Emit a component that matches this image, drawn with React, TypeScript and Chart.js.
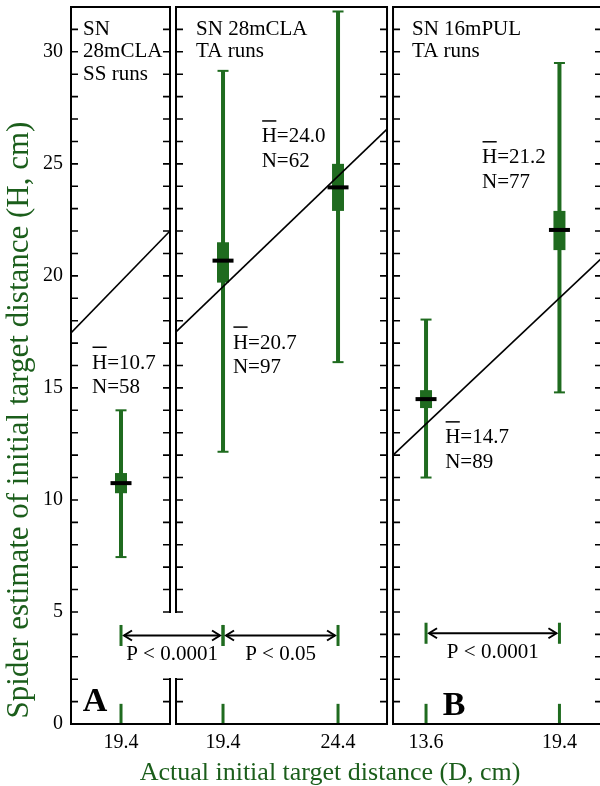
import React, { useEffect, useRef } from 'react';
import { Chart, registerables } from 'chart.js';

Chart.register(...registerables);

const SERIF = '"Liberation Serif", "Times New Roman", serif';
const GREEN = '#1f6b1f';
const TITLE_GREEN = '#1b5e1b';

// ---------------- data ----------------
const panelTitles = [['SN', '28mCLA', 'SS runs'], ['SN 28mCLA', 'TA runs'], ['SN 16mPUL', 'TA runs']];
const panelLetters = ['A', '', 'B'];
const panelMinD = [17.226, 17.356, 12.165];
const panelMaxD = [21.53, 26.53, 21.25];
// shift of each panel on the shared (broken) x axis
const panelShift = [-17.226, -12.791, 1.835];
const diagStartH = [17.45, 17.5, 12.0];
const diagEndH = [22.0, 26.55, 20.8];

const groupPanel = [0, 1, 1, 2, 2];
const groupD = [19.4, 19.4, 24.4, 13.6, 19.4];
const xTickLabels = ['19.4', '19.4', '24.4', '13.6', '19.4'];
const meanH = [10.75, 20.68, 23.95, 14.5, 22.05];
const boxLow = [10.3, 19.7, 22.9, 14.1, 21.15];
const boxHigh = [11.2, 21.5, 25.0, 14.9, 22.9];
const whiskerLow = [7.45, 12.15, 16.15, 11.0, 14.8];
const whiskerHigh = [14.0, 29.15, 31.8, 18.05, 29.5];
const meanText = ['10.7', '20.7', '24.0', '14.7', '21.2'];
const nText = ['58', '97', '62', '89', '77'];

const compFrom = [0, 1, 3];
const compTo = [1, 2, 4];
const compText = ['P < 0.0001', 'P < 0.05', 'P < 0.0001'];
const compH = [3.95, 3.95, 4.05];

const yTicks = [0, 5, 10, 15, 20, 25, 30];
const Y_MAX = 32;

// ---------------- layout / annotation placement (in data units) ----------------
const BREAK_LO = 2.05;
const BREAK_HI = 4.95;
const breakLeft = [false, true, false];
const breakRight = [true, false, false];
const titleD = [17.75, 18.23, 12.99];
const titleTopH = 31;
const labelD = [18.14, 19.83, 21.08, 14.43, 16.035];
const labelH = [16.1, 17.0, 26.2, 12.77, 25.27];
const letterD = [18.27, 0, 14.817];
const letterH = [0.58, 0, 0.4];

const vx = (p: number, d: number) => d + panelShift[p];

function buildDatasets() {
  const ds: any[] = [];
  // mean bars (on top)
  ds.push({
    data: groupD.map((d, i) => ({ x: vx(groupPanel[i], d), y: meanH[i] })),
    showLine: false,
    pointStyle: 'line',
    pointRadius: 10.5,
    pointBorderWidth: 4,
    pointBorderColor: '#000',
    pointBackgroundColor: '#000',
    order: 0,
  });
  // diagonal reference lines
  for (let p = 0; p < 3; p++) {
    ds.push({
      data: [
        { x: vx(p, panelMinD[p]), y: diagStartH[p] },
        { x: vx(p, panelMaxD[p]), y: diagEndH[p] },
      ],
      borderColor: '#000',
      borderWidth: 1.6,
      pointRadius: 0,
      order: 1,
    });
  }
  // boxes
  groupD.forEach((d, i) => {
    ds.push({
      data: [
        { x: vx(groupPanel[i], d), y: boxLow[i] },
        { x: vx(groupPanel[i], d), y: boxHigh[i] },
      ],
      borderColor: GREEN,
      borderWidth: 12,
      borderCapStyle: 'butt',
      pointRadius: 0,
      order: 2,
    });
  });
  // whiskers
  groupD.forEach((d, i) => {
    ds.push({
      data: [
        { x: vx(groupPanel[i], d), y: whiskerLow[i] },
        { x: vx(groupPanel[i], d), y: whiskerHigh[i] },
      ],
      borderColor: GREEN,
      borderWidth: 4,
      borderCapStyle: 'butt',
      pointRadius: 0,
      order: 3,
    });
  });
  // whisker caps
  const caps: any[] = [];
  groupD.forEach((d, i) => {
    caps.push({ x: vx(groupPanel[i], d), y: whiskerLow[i] });
    caps.push({ x: vx(groupPanel[i], d), y: whiskerHigh[i] });
  });
  ds.push({
    data: caps,
    showLine: false,
    pointStyle: 'line',
    pointRadius: 5.5,
    pointBorderWidth: 2,
    pointBorderColor: GREEN,
    order: 3,
  });
  // green marks on the baseline
  groupD.forEach((d, i) => {
    ds.push({
      data: [
        { x: vx(groupPanel[i], d), y: 0 },
        { x: vx(groupPanel[i], d), y: 0.9 },
      ],
      borderColor: GREEN,
      borderWidth: 3,
      borderCapStyle: 'butt',
      pointRadius: 0,
      order: 4,
    });
  });
  // comparison marks and arrow shafts
  compFrom.forEach((f, c) => {
    const t = compTo[c];
    [f, t].forEach((g) => {
      ds.push({
        data: [
          { x: vx(groupPanel[g], groupD[g]), y: compH[c] - 0.47 },
          { x: vx(groupPanel[g], groupD[g]), y: compH[c] + 0.47 },
        ],
        borderColor: GREEN,
        borderWidth: 3,
        borderCapStyle: 'butt',
        pointRadius: 0,
        order: 4,
      });
    });
    ds.push({
      data: [
        { x: vx(groupPanel[f], groupD[f]) + 0.13, y: compH[c] },
        { x: vx(groupPanel[t], groupD[t]) - 0.13, y: compH[c] },
      ],
      borderColor: '#000',
      borderWidth: 2,
      pointRadius: 0,
      order: 4,
    });
  });
  return ds;
}

const decor = {
  id: 'decor',
  afterDatasetsDraw(chart: any) {
    const { ctx } = chart;
    const xs = chart.scales.x;
    const ys = chart.scales.y;
    const px = (p: number, d: number) => xs.getPixelForValue(vx(p, d));
    const py = (h: number) => ys.getPixelForValue(h);
    ctx.save();

    // panel frames and inward ticks
    const T = py(Y_MAX);
    const B = py(0);
    const gTop = py(BREAK_HI);
    const gBot = py(BREAK_LO);
    ctx.strokeStyle = '#000';
    for (let p = 0; p < 3; p++) {
      const L = px(p, panelMinD[p]);
      const R = px(p, panelMaxD[p]);
      ctx.lineWidth = 2;
      ctx.beginPath();
      ctx.moveTo(L - 1, T);
      ctx.lineTo(R + 1, T);
      ctx.moveTo(L - 1, B);
      ctx.lineTo(R + 1, B);
      const side = (xp: number, broken: boolean) => {
        if (broken) {
          ctx.moveTo(xp, T);
          ctx.lineTo(xp, gTop);
          ctx.moveTo(xp, gBot);
          ctx.lineTo(xp, B);
        } else {
          ctx.moveTo(xp, T);
          ctx.lineTo(xp, B);
        }
      };
      side(L, breakLeft[p]);
      side(R, breakRight[p]);
      ctx.stroke();
      ctx.lineWidth = 1.6;
      ctx.beginPath();
      for (let h = 1; h < Y_MAX; h++) {
        const yy = py(h);
        const inGap = h > BREAK_LO && h < BREAK_HI;
        if (!(breakLeft[p] && inGap)) {
          ctx.moveTo(L, yy);
          ctx.lineTo(L + 7, yy);
        }
        if (!(breakRight[p] && inGap)) {
          ctx.moveTo(R - 7, yy);
          ctx.lineTo(R, yy);
        }
      }
      ctx.stroke();
    }

    // panel titles
    ctx.fillStyle = '#000';
    ctx.font = `21px ${SERIF}`;
    ctx.textAlign = 'left';
    ctx.textBaseline = 'middle';
    for (let p = 0; p < 3; p++) {
      panelTitles[p].forEach((line, k) => {
        ctx.fillText(line, px(p, titleD[p]), py(titleTopH - k));
      });
    }

    // mean / N labels
    groupD.forEach((_, i) => {
      const x0 = px(groupPanel[i], labelD[i]);
      const y0 = py(labelH[i]);
      ctx.font = `21px ${SERIF}`;
      ctx.fillText('H', x0, y0);
      const wH = ctx.measureText('H').width;
      ctx.fillText('=' + meanText[i], x0 + wH, y0);
      ctx.lineWidth = 1.5;
      ctx.beginPath();
      ctx.moveTo(x0 + 0.5, y0 - 16);
      ctx.lineTo(x0 + wH - 0.5, y0 - 16);
      ctx.stroke();
      ctx.fillText('N=' + nText[i], x0, py(labelH[i] - 1.1));
    });

    // comparison arrowheads and texts
    compFrom.forEach((f, c) => {
      const t = compTo[c];
      const xa = px(groupPanel[f], groupD[f]) + 3;
      const xb = px(groupPanel[t], groupD[t]) - 3;
      const y0 = py(compH[c]);
      ctx.lineWidth = 2;
      ctx.beginPath();
      ctx.moveTo(xa + 8, y0 - 5);
      ctx.lineTo(xa, y0);
      ctx.lineTo(xa + 8, y0 + 5);
      ctx.moveTo(xb - 8, y0 - 5);
      ctx.lineTo(xb, y0);
      ctx.lineTo(xb - 8, y0 + 5);
      ctx.stroke();
      ctx.font = `21px ${SERIF}`;
      ctx.textAlign = 'center';
      ctx.fillText(compText[c], (xa + xb) / 2, py(compH[c] - 0.85));
      ctx.textAlign = 'left';
    });

    // panel letters
    ctx.font = `bold 34px ${SERIF}`;
    ctx.textAlign = 'center';
    ctx.textBaseline = 'alphabetic';
    for (let p = 0; p < 3; p++) {
      if (!panelLetters[p]) continue;
      ctx.fillText(panelLetters[p], px(p, letterD[p]), py(letterH[p]));
    }

    // axis titles
    ctx.fillStyle = TITLE_GREEN;
    ctx.font = `31px ${SERIF}`;
    ctx.textBaseline = 'middle';
    ctx.save();
    ctx.translate(20, 420);
    ctx.rotate(-Math.PI / 2);
    ctx.fillText('Spider estimate of initial target distance (H, cm)', 0, 0);
    ctx.restore();
    ctx.font = `26px ${SERIF}`;
    ctx.textBaseline = 'alphabetic';
    ctx.fillText('Actual initial target distance (D, cm)', 330, 780);

    ctx.restore();
  },
};

export default function App() {
  const ref = useRef<HTMLCanvasElement | null>(null);
  useEffect(() => {
    if (!ref.current) return;
    const xMin = vx(0, panelMinD[0]);
    const xMax = vx(2, panelMaxD[2]);
    const chart = new Chart(ref.current, {
      type: 'line',
      data: { datasets: buildDatasets() },
      options: {
        animation: false,
        responsive: false,
        maintainAspectRatio: false,
        events: [],
        layout: { autoPadding: false, padding: { top: 7, right: 0, left: 0, bottom: 0 } },
        plugins: {
          legend: { display: false },
          tooltip: { enabled: false },
          title: { display: false },
        },
        scales: {
          x: {
            type: 'linear',
            min: xMin,
            max: xMax,
            grid: { display: false, drawTicks: false },
            border: { display: false },
            ticks: {
              autoSkip: false,
              maxRotation: 0,
              padding: 7,
              color: '#000',
              font: { family: SERIF, size: 20 },
              callback: (_v: any, i: number) => xTickLabels[i] ?? '',
            },
            afterBuildTicks: (s: any) => {
              s.ticks = groupD.map((d, i) => ({ value: vx(groupPanel[i], d) }));
            },
            afterFit: (s: any) => {
              s.height = 62;
              s.paddingLeft = 0;
              s.paddingRight = 0;
            },
          },
          y: {
            type: 'linear',
            min: 0,
            max: Y_MAX,
            grid: { display: false, drawTicks: false },
            border: { display: false },
            ticks: {
              padding: 8,
              color: '#000',
              font: { family: SERIF, size: 20 },
            },
            afterBuildTicks: (s: any) => {
              s.ticks = yTicks.map((v) => ({ value: v }));
            },
            afterFit: (s: any) => {
              s.width = 71;
              s.paddingTop = 0;
              s.paddingBottom = 0;
            },
          },
        },
      } as any,
      plugins: [decor],
    });
    return () => chart.destroy();
  }, []);

  return (
    <div
      style={{
        position: 'absolute',
        left: 0,
        top: 0,
        width: 600,
        height: 786,
        overflow: 'hidden',
        background: '#fff',
      }}
    >
      <canvas ref={ref} width={602} height={786} style={{ display: 'block', width: 602, height: 786 }} />
    </div>
  );
}
